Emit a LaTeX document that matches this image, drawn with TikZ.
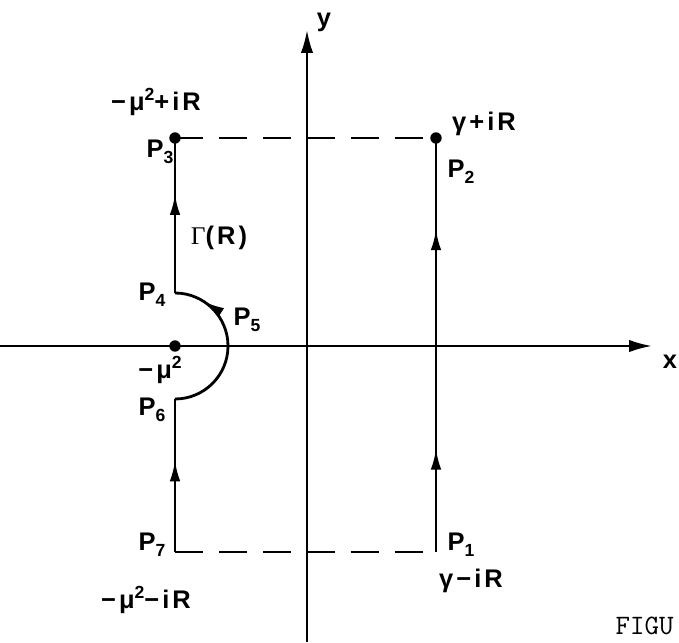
\documentclass[tikz,border=0pt]{standalone}
\usepackage{fontspec}
\setmainfont{Liberation Sans}
\newfontfamily\lblfont[LetterSpace=12]{Liberation Sans}
\newfontfamily\gamfont{Liberation Serif}
\usetikzlibrary{arrows.meta,decorations.markings}
\newcommand{\psub}[1]{\raisebox{-0.45ex}{\fontsize{10}{12}\selectfont #1}}
\newcommand{\psup}[1]{\raisebox{0.7ex}{\fontsize{10}{12}\selectfont #1}}
\begin{document}
\begin{tikzpicture}[x=0.02cm,y=-0.02cm,
  lbl/.style={font=\lblfont\bfseries\fontsize{14.5}{16}\selectfont,inner sep=0pt},
  ptdot/.style={circle,fill,inner sep=0pt,minimum size=6.5pt},
  axis/.style={line width=1.3pt,-{Latex[length=13pt,width=7pt]}},
  contour/.style={line width=1.6pt},
  midarrow/.style={postaction={decorate},decoration={markings,
    mark=at position #1 with {\arrow{Latex[length=12pt,width=6pt]}}}},
  twoarrows/.style 2 args={postaction={decorate},decoration={markings,
    mark=at position #1 with {\arrow{Latex[length=12pt,width=6pt]}},
    mark=at position #2 with {\arrow{Latex[length=12pt,width=6pt]}}}}]
  \useasboundingbox (0,0) rectangle (679,642);
  % axes
  \coordinate (xl) at (0,346);
  \coordinate (xr) at (652,346);
  \coordinate (yb) at (307,642);
  \coordinate (yt) at (307,30);
  \draw[axis] (xl) -- (xr);
  \draw[axis] (yb) -- (yt);
  % contour corners
  \coordinate (p1) at (436,552);
  \coordinate (p2) at (436,138);
  \coordinate (p3) at (175,138);
  \coordinate (p4) at (175,293);
  \coordinate (p6) at (175,399);
  \coordinate (p7) at (175,552);
  \coordinate (mu) at (175,346);
  % solid parts
  \draw[contour,twoarrows={0.25}{0.78}] (p1) -- (p2);
  \draw[contour,midarrow=0.6] (p7) -- (p6);
  \draw[contour,midarrow=0.82] (p6) arc[start angle=90,end angle=-90,radius=53];
  \draw[contour,midarrow=0.64] (p4) -- (p3);
  % dashed parts
  \draw[contour,dash pattern=on 16pt off 9pt] (p3) -- (p2);
  \draw[contour,dash pattern=on 16pt off 9pt] (p7) -- (p1);
  % points
  \node[ptdot] (d3) at (p3) {};
  \node[ptdot] (d2) at (p2) {};
  \node[ptdot] (dmu) at (mu) {};
  % labels
  \node[lbl] (l3t) at (156,102) {−μ\psup{2}+iR};
  \node[lbl] (l3) at (160,152) {P\psub{3}};
  \node[lbl] (l2t) at (484,124) {γ+iR};
  \node[lbl] (l2) at (461,172) {P\psub{2}};
  \node[lbl] (lg) at (219,238) {{\gamfont\mdseries Γ}(R)};
  \node[lbl] (l4) at (152,295) {P\psub{4}};
  \node[lbl] (l5) at (247,320) {P\psub{5}};
  \node[lbl] (lmu) at (160,370) {−μ\psup{2}};
  \node[lbl] (l6) at (152,410) {P\psub{6}};
  \node[lbl] (l7) at (152,545) {P\psub{7}};
  \node[lbl] (l7t) at (146,600) {−μ\psup{2}−iR};
  \node[lbl] (l1) at (461,545) {P\psub{1}};
  \node[lbl] (l1t) at (471,581) {γ−iR};
  \node[lbl] (ly) at (324,22) {y};
  \node[lbl] (lx) at (670,362) {x};
  \node[font=\ttfamily\fontsize{16}{18}\selectfont,anchor=base east,inner sep=0pt] (fig) at (674,634) {FIGU};
\end{tikzpicture}
\end{document}
